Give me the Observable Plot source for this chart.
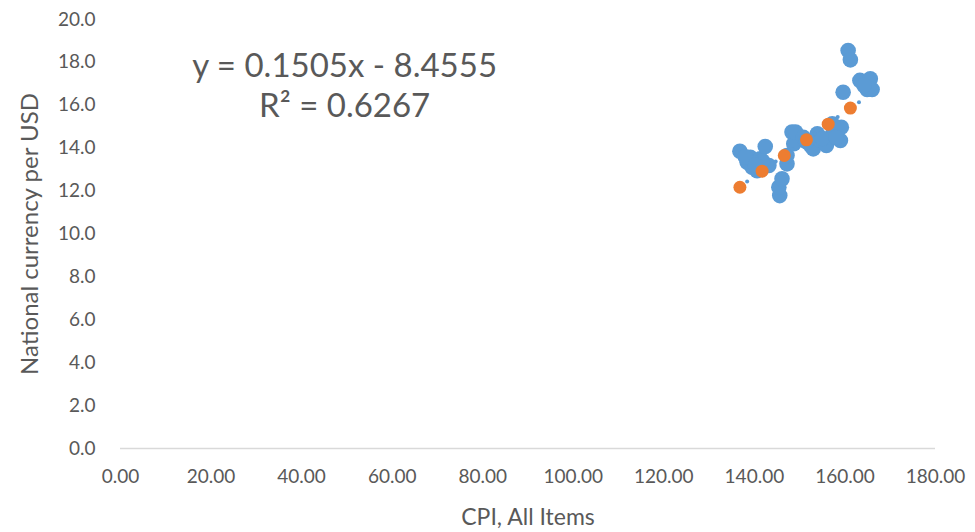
<!DOCTYPE html>
<html>
<head>
<meta charset="utf-8">
<script src="https://cdn.jsdelivr.net/npm/d3@7"></script>
<script src="https://cdn.jsdelivr.net/npm/@observablehq/plot@0.6"></script>
<style>
  html, body { margin: 0; padding: 0; background: #fff; }
  #chart { width: 975px; height: 532px; }
</style>
</head>
<body>
<div id="chart"></div>
<script>
// Monthly observations (blue)
const cpiMonthly = [136.8, 138.4, 139.1, 139.5, 140.6, 141.3, 142.4, 143.2, 141.8, 140.0,
  145.6, 145.4, 146.1, 147.2, 147.2, 148.3, 148.7, 149.1, 150.8, 152.4,
  153.0, 153.9, 154.6, 155.9, 156.8, 157.2, 157.5, 159.0, 159.2, 159.6,
  160.7, 161.2, 163.3, 165.6, 164.9, 166.0, 164.2, 151.5, 155.0, 158.0,
  138.0, 140.3];
const fxMonthly = [13.86, 13.35, 13.58, 13.11, 12.95, 13.51, 14.08, 13.19, 13.40, 13.30,
  11.79, 12.18, 12.57, 13.27, 13.66, 14.75, 14.21, 14.75, 14.51, 14.13,
  13.97, 14.67, 14.36, 14.13, 14.51, 15.14, 14.83, 14.36, 14.98, 16.61,
  18.55, 18.12, 17.16, 17.24, 16.74, 16.74, 16.92, 14.30, 14.45, 14.50,
  13.60, 13.20];

// Annual averages (orange)
const cpiAnnual = [136.8, 141.7, 146.6, 151.5, 156.3, 161.2];
const fxAnnual = [12.18, 12.93, 13.66, 14.39, 15.12, 15.87];

// Small markers
const cpiSmall = [138.4, 144.7, 148.4, 153.3, 158.4, 163.1];
const fxSmall = [12.45, 13.38, 13.94, 14.69, 15.45, 16.14];

const xTicks = [0, 20, 40, 60, 80, 100, 120, 140, 160, 180];
const yTicks = [0, 2, 4, 6, 8, 10, 12, 14, 16, 18, 20];

const xLabel = "CPI, All Items";
const yLabel = "National currency per USD";
const equationLines = ["y = 0.1505x - 8.4555", "R² = 0.6267"];

const blue = cpiMonthly.map((x, i) => ({x, y: fxMonthly[i]}));
const orange = cpiAnnual.map((x, i) => ({x, y: fxAnnual[i]}));
const small = cpiSmall.map((x, i) => ({x, y: fxSmall[i]}));

const textColor = "#595959";

const chart = Plot.plot({
  width: 975,
  height: 532,
  marginLeft: 120,
  marginRight: 40,
  marginTop: 19,
  marginBottom: 84,
  style: {fontFamily: "Lato, sans-serif", fontSize: "19px", color: textColor, background: "#fff"},
  x: {domain: [0, 180], ticks: xTicks, tickFormat: d => d.toFixed(2), tickSize: 0, tickPadding: 21, label: null},
  y: {domain: [0, 20], ticks: yTicks, tickFormat: d => d.toFixed(1), tickSize: 0, tickPadding: 25, label: null},
  marks: [
    Plot.ruleY([0], {stroke: "#d9d9d9", strokeWidth: 1.3}),
    Plot.dot(blue, {x: "x", y: "y", r: 7.8, fill: "#5B9BD5", stroke: "none"}),
    Plot.dot(small, {x: "x", y: "y", r: 2, fill: "#5B9BD5", stroke: "none"}),
    Plot.dot(orange, {x: "x", y: "y", r: 6.5, fill: "#ED7D31", stroke: "none"}),
    Plot.text([equationLines[0]], {x: 49.5, y: 17.8, text: d => d, fontSize: 33, fill: textColor}),
    Plot.text([equationLines[1]], {x: 49.5, y: 15.95, text: d => d, fontSize: 33, fill: textColor}),
    Plot.text([xLabel], {frameAnchor: "bottom", dy: 69, lineAnchor: "middle", textAnchor: "middle", text: d => d, fontSize: 23, fill: textColor}),
    Plot.text([yLabel], {frameAnchor: "left", dx: -90, rotate: -90, lineAnchor: "middle", textAnchor: "middle", text: d => d, fontSize: 24, fill: textColor})
  ]
});
chart.querySelectorAll("text").forEach(t => t.setAttribute("fill", textColor));
document.getElementById("chart").appendChild(chart);
</script>
</body>
</html>
